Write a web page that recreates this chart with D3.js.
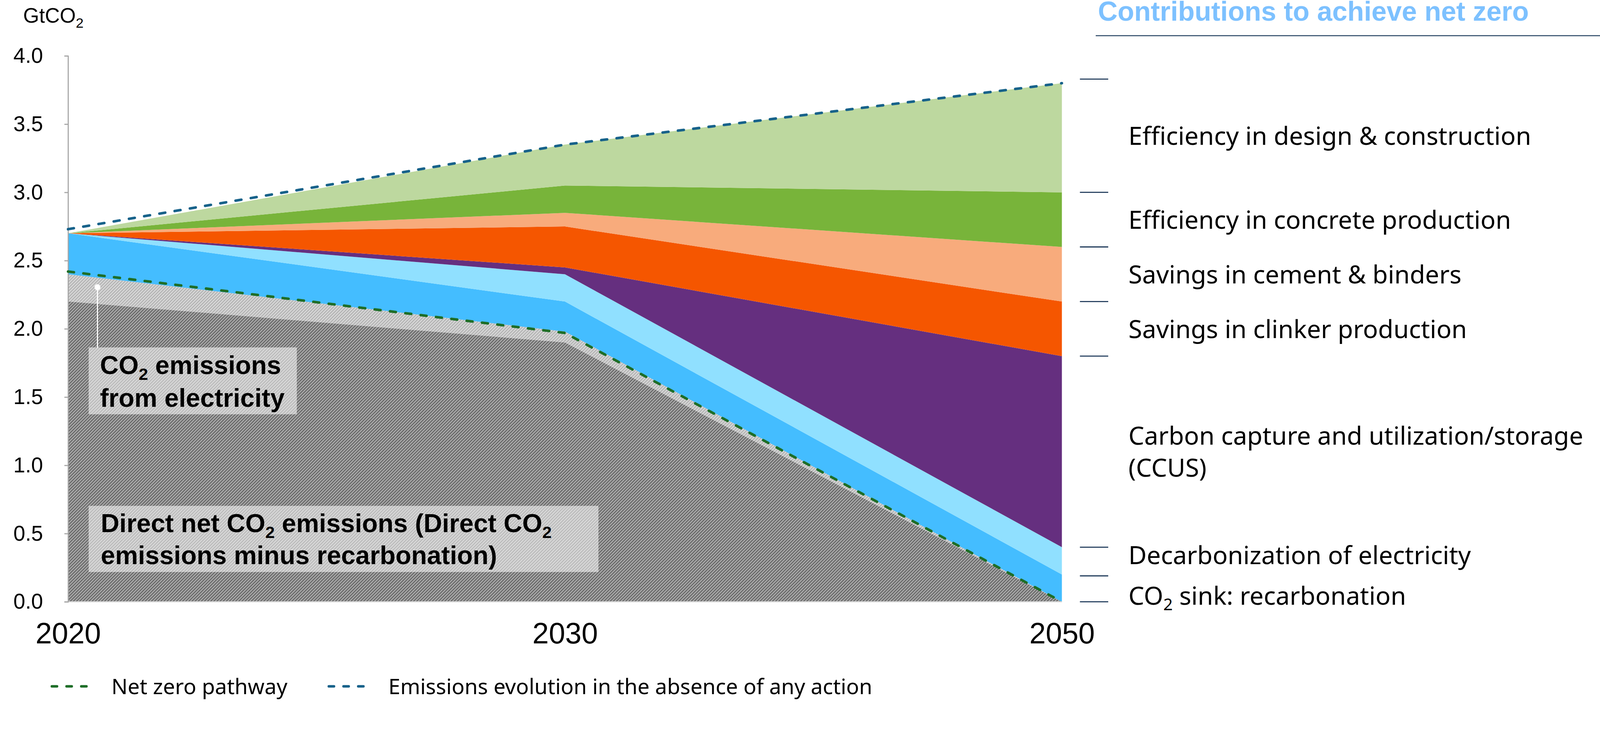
<!DOCTYPE html>
<meta charset="utf-8">
<style>
  html, body { margin: 0; padding: 0; overflow: hidden; background: #fff; }
  svg { display: block; width: 100vw; height: 100vh; }
  .axis text { font-family: "Liberation Sans", Arial, sans-serif; fill: #000; }
  .axis--y path, .axis--y line { stroke: #a6a6a6; stroke-width: 3; }
  .axis--x path { display: none; }
  .lbl { font-family: "Noto Sans", sans-serif; font-size: 68px; fill: #000; }
  .box-text { font-family: "Liberation Sans", Arial, sans-serif; font-weight: bold; font-size: 70px; fill: #000; }
</style>
<body>
<svg viewBox="0 0 4350 1898" preserveAspectRatio="xMinYMin meet"></svg>
<script src="https://d3js.org/d3.v7.min.js"></script>
<script>
// data (GtCO2)
var years = ["2020", "2030", "2050"];
var directNet     = [2.20, 1.90, 0.00];
var electricity   = [0.20, 0.08, 0.00];
var recarbonation = [0.30, 0.22, 0.20];
var decarbElec    = [0.00, 0.20, 0.20];
var ccus          = [0.00, 0.05, 1.40];
var clinker       = [0.00, 0.30, 0.40];
var cement        = [0.00, 0.10, 0.40];
var concrete      = [0.00, 0.20, 0.40];
var design        = [0.00, 0.30, 0.80];
var netZero       = [2.42, 1.97, 0.00];
var noAction      = [2.73, 3.35, 3.80];
var yTicks = [0, 0.5, 1.0, 1.5, 2.0, 2.5, 3.0, 3.5, 4.0];
var rightTicks = [3.83, 3.0, 2.6, 2.2, 1.8, 0.4, 0.19, 0.0];
var rightLabels = [
  ["Efficiency in design & construction"],
  ["Efficiency in concrete production"],
  ["Savings in cement & binders"],
  ["Savings in clinker production"],
  ["Carbon capture and utilization/storage", "(CCUS)"],
  ["Decarbonization of electricity"],
  ["CO2 sink: recarbonation"]
];

var keys = ["directNet", "electricity", "recarbonation", "decarbElec", "ccus", "clinker", "cement", "concrete", "design"];
var series = {directNet: directNet, electricity: electricity, recarbonation: recarbonation, decarbElec: decarbElec,
              ccus: ccus, clinker: clinker, cement: cement, concrete: concrete, design: design};
var fills = {directNet: "url(#hatchDark)", electricity: "url(#hatchLight)", recarbonation: "#44bdff",
             decarbElec: "#90e0ff", ccus: "#652f7f", clinker: "#f55600", cement: "#f8ab7c",
             concrete: "#78b43a", design: "#bdd89f"};

var rows = years.map(function(yr, i) {
  var r = {year: yr};
  keys.forEach(function(k) { r[k] = series[k][i]; });
  return r;
});

var svg = d3.select("svg");

// scales
var x = d3.scalePoint().domain(years).range([185, 2887]);
var y = d3.scaleLinear().domain([0, 4]).range([1637, 152]);

// hatch patterns
var defs = svg.append("defs");
function hatch(id, bg, fg) {
  var p = defs.append("pattern")
      .attr("id", id)
      .attr("patternUnits", "userSpaceOnUse")
      .attr("width", 6).attr("height", 6)
      .attr("patternTransform", "rotate(45)");
  p.append("rect").attr("width", 6).attr("height", 6).attr("fill", bg);
  p.append("rect").attr("width", 3).attr("height", 6).attr("fill", fg);
}
hatch("hatchDark", "#acacac", "#686868");
hatch("hatchLight", "#d9d9d9", "#b3b3b3");

// stacked areas
var stack = d3.stack().keys(keys);
var stacked = stack(rows);
var area = d3.area()
    .x(function(d) { return x(d.data.year); })
    .y0(function(d) { return y(d[0]); })
    .y1(function(d) { return y(d[1]); });

// solid grey band under the grey hatch (visible edge of electricity area)
svg.append("path")
    .datum(stacked[2])
    .attr("fill", "#bebfc1")
    .attr("d", d3.area()
      .x(function(d) { return x(d.data.year); })
      .y0(y(0))
      .y1(function(d) { return y(d[0]); }));

svg.append("g").selectAll("path")
  .data(stacked)
  .enter().append("path")
    .attr("fill", function(d) { return fills[d.key]; })
    .attr("d", area);

// x baseline
svg.append("line")
    .attr("x1", x("2020")).attr("x2", x("2050"))
    .attr("y1", y(0)).attr("y2", y(0))
    .attr("stroke", "#d6d6d6").attr("stroke-width", 3);

// y axis
svg.append("g")
    .attr("class", "axis axis--y")
    .attr("transform", "translate(" + x("2020") + ",0)")
    .call(d3.axisLeft(y).tickValues(yTicks).tickFormat(d3.format(".1f")).tickSize(10).tickSizeOuter(10).tickPadding(58))
    .selectAll("text").attr("font-size", 58);

// x axis
var xAxis = svg.append("g")
    .attr("class", "axis axis--x")
    .attr("transform", "translate(0," + y(0) + ")")
    .call(d3.axisBottom(x).tickSize(0).tickPadding(56));
xAxis.selectAll("text").attr("font-size", 80);

// dashed lines
var line = d3.line()
    .x(function(d, i) { return x(years[i]); })
    .y(function(d) { return y(d); });

svg.append("path")
    .datum(noAction)
    .attr("fill", "none")
    .attr("stroke", "#17628a")
    .attr("stroke-width", 7)
    .attr("stroke-linecap", "round")
    .attr("stroke-dasharray", "16,26")
    .attr("d", line);

svg.append("path")
    .datum(netZero)
    .attr("fill", "none")
    .attr("stroke", "#1e6e28")
    .attr("stroke-width", 7)
    .attr("stroke-linecap", "round")
    .attr("stroke-dasharray", "16,26")
    .attr("d", line);

// text helper: "CO2" gets a subscript 2
function richText(sel, str, subSize) {
  var parts = str.split("CO2");
  parts.forEach(function(p, i) {
    if (i > 0) {
      sel.append("tspan").text("CO");
      sel.append("tspan").attr("font-size", subSize).attr("dy", subSize * 0.35).text("2");
      sel.append("tspan").attr("dy", -subSize * 0.35).text(p);
    } else {
      sel.append("tspan").text(p);
    }
  });
}

// y unit label
var unit = svg.append("text")
    .attr("x", 63).attr("y", 62)
    .attr("font-family", "Liberation Sans, Arial, sans-serif")
    .attr("font-size", 56);
richText(unit, "GtCO2", 38);

// annotation: electricity emissions
var ax = x("2020") + 80;
svg.append("line")
    .attr("x1", ax).attr("x2", ax)
    .attr("y1", y(2.305)).attr("y2", 946)
    .attr("stroke", "#fff").attr("stroke-width", 3);
svg.append("circle")
    .attr("cx", ax).attr("cy", y(2.305)).attr("r", 8)
    .attr("fill", "#fff");

svg.append("rect")
    .attr("x", 241).attr("y", 945).attr("width", 566).attr("height", 182)
    .attr("fill", "#fff").attr("fill-opacity", 0.55);
richText(svg.append("text").attr("class", "box-text").attr("x", 272).attr("y", 1017), "CO2 emissions", 46);
richText(svg.append("text").attr("class", "box-text").attr("x", 272).attr("y", 1107), "from electricity", 46);

svg.append("rect")
    .attr("x", 241).attr("y", 1376).attr("width", 1386).attr("height", 180)
    .attr("fill", "#fff").attr("fill-opacity", 0.55);
richText(svg.append("text").attr("class", "box-text").attr("x", 274).attr("y", 1447), "Direct net CO2 emissions (Direct CO2", 46);
richText(svg.append("text").attr("class", "box-text").attr("x", 274).attr("y", 1535), "emissions minus recarbonation)", 46);

// right side: title, brackets and labels
svg.append("text")
    .attr("x", 2985).attr("y", 56)
    .attr("font-family", "Liberation Sans, Arial, sans-serif")
    .attr("font-weight", "bold")
    .attr("font-size", 74)
    .attr("fill", "#7dc1ff")
    .text("Contributions to achieve net zero");
svg.append("line")
    .attr("x1", 2979).attr("x2", 4350).attr("y1", 97).attr("y2", 97)
    .attr("stroke", "#3a5570").attr("stroke-width", 3);

svg.append("g").selectAll("line")
  .data(rightTicks)
  .enter().append("line")
    .attr("x1", 2936).attr("x2", 3013)
    .attr("y1", function(d) { return y(d); })
    .attr("y2", function(d) { return y(d); })
    .attr("stroke", "#1f3a5a").attr("stroke-width", 3);

// label centres between brackets, spread apart when too close
var centres = rightLabels.map(function(l, i) { return (y(rightTicks[i]) + y(rightTicks[i + 1])) / 2; });
for (var i = centres.length - 1; i > 0; i--) {
  var need = 110;
  if (centres[i] - centres[i - 1] < need) {
    var m = (centres[i] + centres[i - 1]) / 2;
    centres[i - 1] = m - need / 2;
    centres[i] = m + need / 2;
  }
}
rightLabels.forEach(function(lines, i) {
  var lh = 87;
  lines.forEach(function(t, j) {
    var base = centres[i] + 25 + (j - (lines.length - 1) / 2) * lh;
    richText(svg.append("text").attr("class", "lbl").attr("x", 3068).attr("y", base), t, 45);
  });
});

// legend
var legend = [
  {name: "Net zero pathway", color: "#1e6e28", x: 137, tx: 303},
  {name: "Emissions evolution in the absence of any action", color: "#17628a", x: 890, tx: 1056}
];
legend.forEach(function(d) {
  svg.append("line")
      .attr("x1", d.x + 4).attr("x2", d.x + 106)
      .attr("y1", 1867).attr("y2", 1867)
      .attr("stroke", d.color).attr("stroke-width", 7)
      .attr("stroke-linecap", "round")
      .attr("stroke-dasharray", "14,26");
  svg.append("text")
      .attr("x", d.tx).attr("y", 1888)
      .attr("font-family", "Noto Sans, sans-serif")
      .attr("font-size", 58)
      .text(d.name);
});
</script>
